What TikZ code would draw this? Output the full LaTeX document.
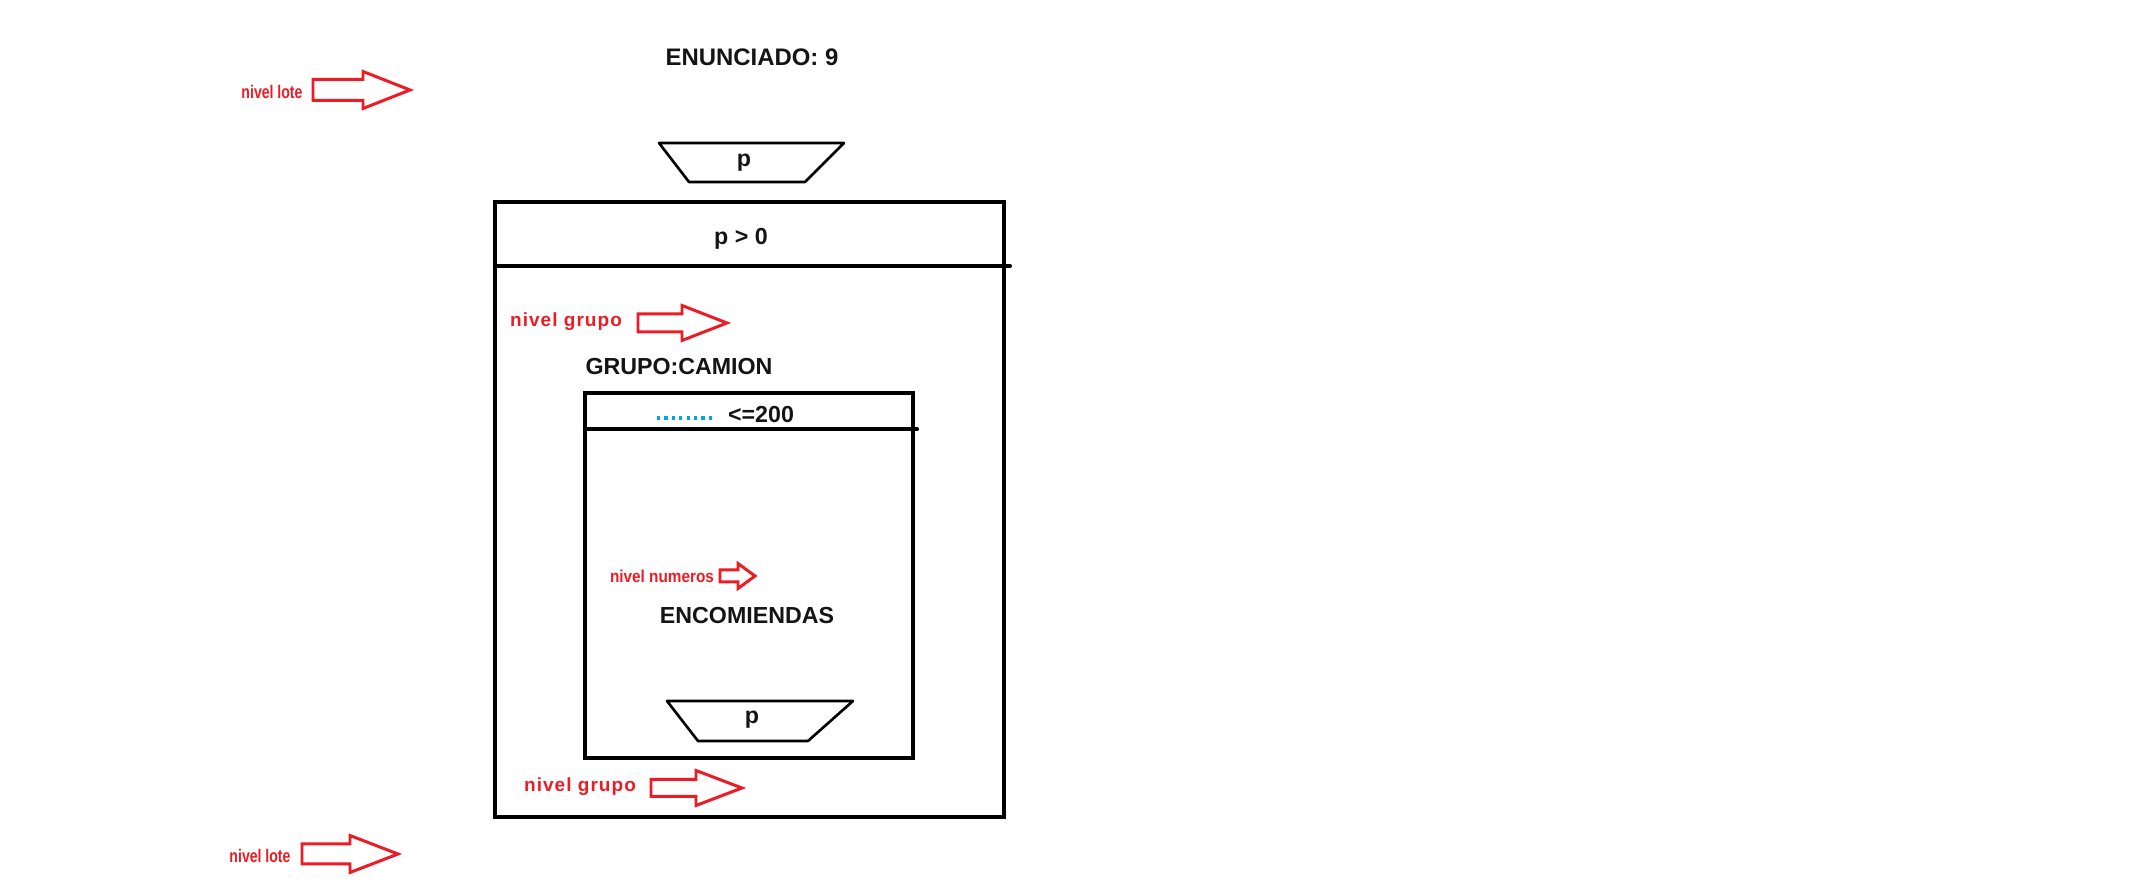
\documentclass[tikz,border=0pt]{standalone}
\usepackage{fontspec}
\setmainfont{Liberation Sans}
\newfontfamily\lotefont[FakeStretch=0.77]{Liberation Sans}
\newfontfamily\grupofont[LetterSpace=5.5]{Liberation Sans}
\newfontfamily\numerosfont[FakeStretch=0.89]{Liberation Sans}
\definecolor{rojopaint}{RGB}{237,28,36}
\definecolor{azulpaint}{RGB}{0,162,232}
\definecolor{negro}{RGB}{20,20,20}
\tikzset{
	caja/.style={line width=1.15pt,line join=miter},
	bandeja/.style={line width=0.75pt},
	texto/.style={inner sep=0pt,text=negro,font=\fontsize{6.6}{8}\selectfont\bfseries},
	nivel/.style={inner sep=0pt,text=rojopaint},
	flecha/.style={draw=rojopaint,line width=0.85pt,line join=miter},
	pics/bloque/.style args={#1/#2/#3/#4}{code={
		\draw[flecha] (0,-#3) -- (#1,-#3) -- (#1,-#4) -- (#1+#2,0) -- (#1,#4) -- (#1,#3) -- (0,#3) -- cycle;}}
}

\begin{document}
\begin{tikzpicture}[x=0.01cm,y=-0.01cm,line cap=round,line join=round]
	\useasboundingbox (0,0) rectangle (2141,883);
	% titulo
	\node[texto,font=\fontsize{6.8}{8}\selectfont\bfseries] (titulo) at (752,57) {ENUNCIADO: 9};
	% nivel lote
	\node[nivel,font={\fontsize{5.2}{6}\lotefont\bfseries}] (lote1) at (272,92) {nivel lote};
	\pic at (313,90) {bloque={50/47/10.5/18.5}};
	\draw[bandeja] (659,143) -- (844,143) -- (805,182) -- (689,182) -- cycle;
	\node[texto] (pentrada) at (744,163) {p};
	\draw[caja] (495,202) rectangle (1004,817);
	\draw[caja] (495,266) -- (1010,266);
	\node[texto] (condlote) at (741,239) {p > 0};
	% nivel grupo
	\node[nivel,font={\fontsize{5.4}{6}\grupofont\bfseries}] (grupo1) at (566,322) {nivel grupo};
	\pic at (638,323) {bloque={44/45/9/17.5}};
	\node[texto] (grupo) at (679,367) {GRUPO:CAMION};
	\draw[caja] (585,393) rectangle (913,758);
	\draw[caja] (585,429) -- (917,429);
	\draw[azulpaint,line width=0.9pt,line cap=butt,dash pattern=on 0.032cm off 0.042cm] (657,418) -- (716,418);
	\node[texto] (condgrupo) at (761,415) {<=200};
	% nivel numeros
	\node[nivel,font={\fontsize{4.9}{6}\numerosfont\bfseries}] (numeros) at (662,576) {nivel numeros};
	\pic at (720,576) {bloque={18/17/6/12.5}};
	\node[texto] (encomiendas) at (747,616) {ENCOMIENDAS};
	\draw[bandeja] (667,701) -- (853,701) -- (808,741) -- (698,741) -- cycle;
	\node[texto] (psalida) at (752,720) {p};
	% cierre
	\node[nivel,font={\fontsize{5.4}{6}\grupofont\bfseries}] (grupo2) at (580,787) {nivel grupo};
	\pic at (651,788) {bloque={45/46/8.5/17.5}};
	\node[nivel,font={\fontsize{5.2}{6}\lotefont\bfseries}] (lote2) at (260,856) {nivel lote};
	\pic at (302,854) {bloque={48/48/10/18.5}};
\end{tikzpicture}
\end{document}
